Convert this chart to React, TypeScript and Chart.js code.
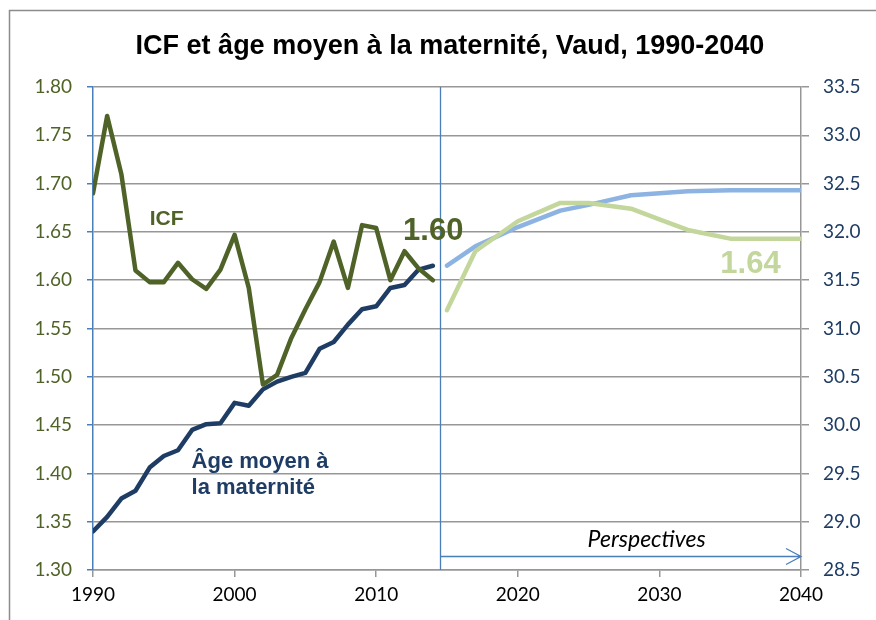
import React, { useEffect, useRef } from "react";
import { Chart, registerables } from "chart.js";

Chart.register(...registerables);

const histYears = [1990,1991,1992,1993,1994,1995,1996,1997,1998,1999,2000,2001,2002,2003,2004,2005,2006,2007,2008,2009,2010,2011,2012,2013,2014];
const icfHist = [1.69,1.77,1.71,1.61,1.598,1.598,1.618,1.601,1.591,1.611,1.647,1.592,1.492,1.502,1.54,1.57,1.598,1.64,1.592,1.657,1.654,1.6,1.63,1.612,1.6];
const ageHist = [28.9,29.05,29.24,29.32,29.56,29.68,29.74,29.95,30.01,30.02,30.23,30.2,30.37,30.45,30.5,30.54,30.79,30.86,31.04,31.2,31.23,31.42,31.45,31.61,31.65];

const projYears = [2015,2017,2020,2023,2025,2028,2030,2032,2035,2040];
const icfProj = [1.569,1.63,1.661,1.68,1.68,1.674,1.663,1.652,1.643,1.643];
const ageProj = [31.65,31.85,32.05,32.22,32.28,32.38,32.4,32.42,32.43,32.43];

const titleText = "ICF et âge moyen à la maternité, Vaud, 1990-2040";
const dividerYear = 2014.5;
const icfLastLabel = "1.60";
const icfProjLabel = "1.64";

const C_ICF = "#4f6228";
const C_AGE = "#1f3d64";
const C_ICF_P = "#c3d69b";
const C_AGE_P = "#8db3e2";
const C_BLUE = "#4a7ebb";
const C_GRID = "#979797";

const pts = (xs: number[], ys: number[]) => xs.map((x, i) => ({ x, y: ys[i] }));

const overlay = {
  id: "overlay",
  beforeDraw(chart: any) {
    const ctx = chart.ctx;
    ctx.save();
    ctx.fillStyle = "#ffffff";
    ctx.fillRect(0, 0, chart.width, chart.height);
    ctx.strokeStyle = "#8c8c8c";
    ctx.lineWidth = 1.5;
    ctx.strokeRect(9.5, 10.5, 1000, 1000);
    ctx.fillStyle = "#000";
    ctx.font = "bold 27px 'Liberation Sans', Arial, sans-serif";
    ctx.textAlign = "center";
    ctx.textBaseline = "alphabetic";
    ctx.fillText(titleText, 450, 54);
    ctx.restore();
  },
  afterDatasetsDraw(chart: any) {
    const ctx = chart.ctx;
    const x = chart.scales.x;
    const yl = chart.scales.y;
    const area = chart.chartArea;
    ctx.save();
    const xd = Math.round(x.getPixelForValue(dividerYear)) + 0.5;
    ctx.strokeStyle = C_BLUE;
    ctx.lineWidth = 1.3;
    ctx.beginPath();
    ctx.moveTo(xd, area.top);
    ctx.lineTo(xd, area.bottom);
    ctx.stroke();
    const ya = 556.5;
    const xe = x.getPixelForValue(2040);
    ctx.beginPath();
    ctx.moveTo(xd, ya);
    ctx.lineTo(xe, ya);
    ctx.moveTo(xe - 15, ya - 8);
    ctx.lineTo(xe, ya);
    ctx.lineTo(xe - 15, ya + 8);
    ctx.stroke();

    ctx.textAlign = "left";
    ctx.textBaseline = "alphabetic";
    ctx.fillStyle = C_ICF;
    ctx.font = "bold 21px 'Liberation Sans', Arial, sans-serif";
    ctx.fillText("ICF", x.getPixelForValue(1994.0), yl.getPixelForValue(1.657));
    ctx.font = "bold 31px 'Liberation Sans', Arial, sans-serif";
    ctx.fillText(icfLastLabel, x.getPixelForValue(2011.9), yl.getPixelForValue(1.6416));
    ctx.fillStyle = C_ICF_P;
    ctx.fillText(icfProjLabel, x.getPixelForValue(2034.3), yl.getPixelForValue(1.6075));
    ctx.fillStyle = C_AGE;
    ctx.font = "bold 22px 'Liberation Sans', Arial, sans-serif";
    ctx.fillText("Âge moyen à", x.getPixelForValue(1996.96), yl.getPixelForValue(1.4056));
    ctx.fillText("la maternité", x.getPixelForValue(1996.96), yl.getPixelForValue(1.3787));
    ctx.fillStyle = "#000";
    ctx.textAlign = "center";
    ctx.font = "italic 23px Lato, sans-serif";
    ctx.fillText("Perspectives", x.getPixelForValue(2029.1), 547);
    ctx.restore();
  },
};

export default function App() {
  const ref = useRef<HTMLCanvasElement | null>(null);
  useEffect(() => {
    document.body.style.margin = "0";
    if (!ref.current) return;
    const lineDs = (label: string, data: any, color: string, axis: string) => ({
      label,
      data,
      borderColor: color,
      backgroundColor: color,
      borderWidth: 4.5,
      pointRadius: 0,
      tension: 0,
      borderJoinStyle: "round" as const,
      borderCapStyle: "round" as const,
      yAxisID: axis,
    });
    const chart = new Chart(ref.current, {
      type: "line",
      data: {
        datasets: [
          lineDs("ICF", pts(histYears, icfHist), C_ICF, "y"),
          lineDs("Âge", pts(histYears, ageHist), C_AGE, "y2"),
          lineDs("ICF proj", pts(projYears, icfProj), C_ICF_P, "y"),
          lineDs("Âge proj", pts(projYears, ageProj), C_AGE_P, "y2"),
        ],
      },
      options: {
        animation: false,
        responsive: false,
        layout: { padding: { top: 87, left: 0, right: 0, bottom: 0 } },
        plugins: { legend: { display: false }, title: { display: false }, tooltip: { enabled: false } },
        scales: {
          x: {
            type: "linear",
            min: 1990,
            max: 2040,
            afterFit: (s: any) => { s.height = 50; },
            border: { color: C_GRID, width: 1.5 },
            grid: { drawOnChartArea: false, tickColor: C_GRID, tickLength: 7, lineWidth: 1.5 },
            ticks: {
              stepSize: 10,
              padding: 6,
              color: "#000",
              font: { family: "Lato, sans-serif", size: 19 },
              callback: (v: any) => String(v),
            },
          },
          y: {
            position: "left",
            min: 1.3,
            max: 1.8,
            afterFit: (s: any) => { s.width = 93; },
            border: { color: C_BLUE, width: 1.5 },
            grid: { color: C_GRID, lineWidth: 1.5, tickColor: C_BLUE, tickLength: 6 },
            ticks: {
              stepSize: 0.05,
              padding: 15,
              color: C_ICF,
              font: { family: "Lato, sans-serif", size: 19 },
              callback: (v: any) => Number(v).toFixed(2),
            },
          },
          y2: {
            position: "right",
            min: 28.5,
            max: 33.5,
            afterFit: (s: any) => { s.width = 75; },
            border: { color: C_GRID, width: 1.5 },
            grid: { drawOnChartArea: false, tickColor: C_GRID, tickLength: 8, lineWidth: 1.5 },
            ticks: {
              stepSize: 0.5,
              padding: 14,
              color: C_AGE,
              font: { family: "Lato, sans-serif", size: 19 },
              callback: (v: any) => Number(v).toFixed(1),
            },
          },
        },
      },
      plugins: [overlay],
    });
    return () => chart.destroy();
  }, []);
  return (
    <div style={{ width: 876, height: 620 }}>
      <canvas ref={ref} width={876} height={620} style={{ display: "block" }} />
    </div>
  );
}
